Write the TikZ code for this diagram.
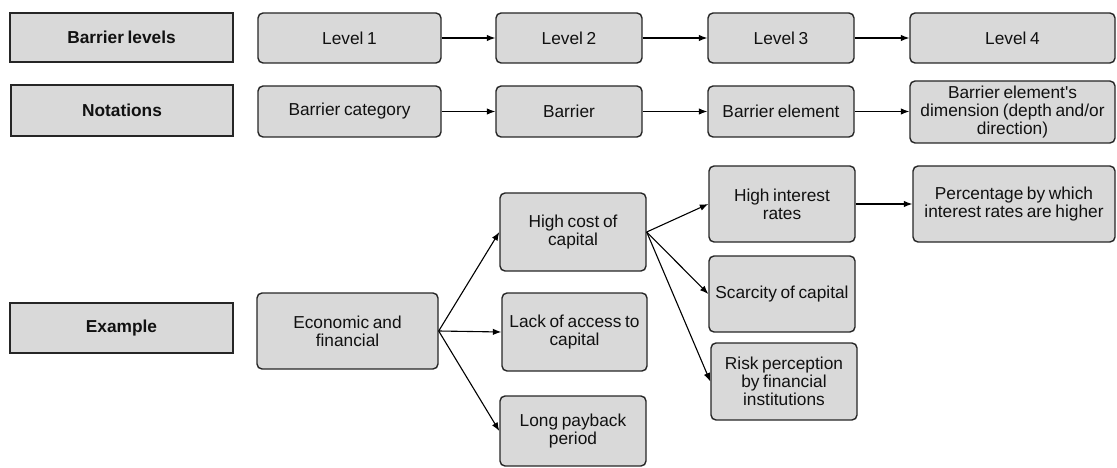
\documentclass[tikz,border=0pt]{standalone}
\usepackage{fontspec}
\setmainfont{Liberation Sans}[WordSpace=0.75]
\usetikzlibrary{arrows.meta}
\definecolor{boxfill}{HTML}{D9D9D9}
\definecolor{boxline}{HTML}{262626}
\definecolor{txt}{HTML}{111111}
\tikzset{
  base/.style={draw=boxline, fill=boxfill, line width=1.4pt, inner sep=0pt, align=center,
    text=txt, font=\fontsize{17.3}{17.8}\selectfont},
  headbox/.style={base, font=\fontsize{17.3}{17.8}\selectfont\bfseries},
  rbox/.style={base, rounded corners=5pt},
  conn/.style={draw=black, line width=1.1pt, -{Latex[length=8.5pt,width=6.5pt]}},
}
\begin{document}
\begin{tikzpicture}[x=1pt,y=-1pt]
\useasboundingbox (0,0) rectangle (1117,468);
% left header boxes
\node[headbox, minimum width=223pt, minimum height=49pt] (lv) at (121.5,37.5) {Barrier levels};
\node[headbox, minimum width=222pt, minimum height=51pt] (nt) at (122,110.5) {Notations};
\node[headbox, minimum width=223pt, minimum height=50pt] (ex) at (121.5,328) {Example};
% row 1
\node[rbox, minimum width=183pt, minimum height=50pt] (l1) at (349.5,38) {Level 1};
\node[rbox, minimum width=146pt, minimum height=50pt] (l2) at (569,38) {Level 2};
\node[rbox, minimum width=146pt, minimum height=50pt] (l3) at (781,38) {Level 3};
\node[rbox, minimum width=205pt, minimum height=50pt] (l4) at (1012.5,38) {Level 4};
% row 2
\node[rbox, minimum width=183pt, minimum height=51pt] (n1) at (349.5,111.5) {Barrier category};
\node[rbox, minimum width=146pt, minimum height=51pt] (n2) at (569,111.5) {Barrier};
\node[rbox, minimum width=146pt, minimum height=51pt] (n3) at (781,111.5) {Barrier element};
\node[rbox, minimum width=205pt, minimum height=62pt] (n4) at (1012.5,112) {Barrier element\textquotesingle s\\dimension (depth and/or\\direction)};
% example
\node[rbox, minimum width=181pt, minimum height=76pt] (ef) at (347.5,331) {Economic and\\financial};
\node[rbox, minimum width=146pt, minimum height=78pt] (hc) at (573,232) {High cost of\\capital};
\node[rbox, minimum width=145pt, minimum height=78pt] (la) at (574.5,332) {Lack of access to\\capital};
\node[rbox, minimum width=146pt, minimum height=70pt] (lp) at (573,431) {Long payback\\period};
\node[rbox, minimum width=146pt, minimum height=76pt] (hi) at (782,204) {High interest\\rates};
\node[rbox, minimum width=146pt, minimum height=76pt] (sc) at (782,294) {Scarcity of capital};
\node[rbox, minimum width=146pt, minimum height=77pt] (rp) at (784,381.5) {Risk perception\\by financial\\institutions};
\node[rbox, minimum width=202pt, minimum height=76pt] (pc) at (1014,204) {Percentage by which\\interest rates are higher};
% connectors
\draw[conn] (l1) -- (l2);
\draw[conn] (l2) -- (l3);
\draw[conn] (l3) -- (l4);
\draw[conn] (n1) -- (n2);
\draw[conn] (n2) -- (n3);
\draw[conn] (n3.east) -- (n4.west |- n3.east);
\draw[conn] (ef.east) -- (hc.west);
\draw[conn] (ef.east) -- (la.west);
\draw[conn] (ef.east) -- (lp.west);
\draw[conn] (hc.east) -- (hi.west);
\draw[conn] (hc.east) -- (sc.west);
\draw[conn] (hc.east) -- (rp.west);
\draw[conn] (hi.east) -- (pc.west |- hi.east);
\end{tikzpicture}
\end{document}
